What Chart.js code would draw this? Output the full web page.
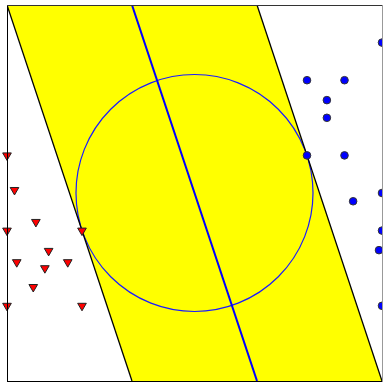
<!DOCTYPE html>
<html>
<head>
<meta charset="utf-8">
<script src="https://cdn.jsdelivr.net/npm/chart.js@4/dist/chart.umd.min.js"></script>
<style>
  body { margin: 0; background: #fff; }
  canvas { display: block; }
</style>
</head>
<body>
<canvas id="svmChart" width="383" height="382"></canvas>
<script>
// class A (triangles) and class B (dots)
const classAX = [0, 0.2, 0.77, 0, 2, 1.11, 0.26, 1.62, 1.01, 0.7, 0, 2];
const classAY = [6, 5.08, 4.23, 4, 4, 3.46, 3.16, 3.16, 3.0, 2.5, 2, 2];
const classBX = [10, 8, 9, 8.53, 8.53, 8, 9, 10, 9.23, 10, 9.92, 10];
const classBY = [9, 8, 8, 7.47, 7, 6, 6, 5, 4.78, 4, 3.48, 2];

// margin band and separating line
const bandX = [0, 6.667, 10, 3.333, 0];
const bandY = [10, 10, 0, 0, 10];
const lowerMarginX = [0, 3.333];
const lowerMarginY = [10, 0];
const upperMarginX = [6.667, 10];
const upperMarginY = [10, 0];
const boundaryX = [3.333, 6.667];
const boundaryY = [10, 0];

// circle touching both margins
const circleCenter = [5, 5];
const circleRadius = 3.16;

const toPoints = (xs, ys) => xs.map((x, i) => ({ x: x, y: ys[i] }));

const BAND_INDEX = 0;

// draws the circle right after the yellow band
const circlePlugin = {
    id: 'circle',
    afterDatasetDraw(chart, args) {
        if (args.index !== BAND_INDEX) return;
        const sx = chart.scales.x;
        const sy = chart.scales.y;
        const cx = sx.getPixelForValue(circleCenter[0]);
        const cy = sy.getPixelForValue(circleCenter[1]);
        const r = sx.getPixelForValue(circleCenter[0] + circleRadius) - cx;
        const ctx = chart.ctx;
        ctx.save();
        ctx.beginPath();
        ctx.arc(cx, cy, r, 0, Math.PI * 2);
        ctx.strokeStyle = '#1a1aff';
        ctx.lineWidth = 1.2;
        ctx.stroke();
        ctx.restore();
    }
};

// plot frame
const framePlugin = {
    id: 'frame',
    afterDatasetsDraw(chart) {
        const a = chart.chartArea;
        const ctx = chart.ctx;
        ctx.save();
        ctx.lineWidth = 1;
        const seg = (x1, y1, x2, y2, c) => {
            ctx.strokeStyle = c;
            ctx.beginPath();
            ctx.moveTo(x1, y1);
            ctx.lineTo(x2, y2);
            ctx.stroke();
        };
        seg(a.left + 0.5, a.top, a.left + 0.5, a.bottom + 1, '#000');
        seg(a.left, a.bottom + 0.5, a.right + 1, a.bottom + 0.5, '#000');
        seg(a.left, a.top + 0.5, a.right + 1, a.top + 0.5, '#333');
        seg(a.right + 0.5, a.top, a.right + 0.5, a.bottom + 1, '#999');
        ctx.restore();
    }
};

new Chart(document.getElementById('svmChart'), {
    type: 'scatter',
    data: {
        datasets: [
            {
                data: toPoints(bandX, bandY),
                showLine: true,
                fill: 'shape',
                backgroundColor: '#ffff00',
                borderWidth: 0,
                pointRadius: 0,
                order: 10
            },
            {
                data: toPoints(lowerMarginX, lowerMarginY),
                showLine: true,
                borderColor: '#000',
                borderWidth: 1.3,
                pointRadius: 0,
                order: 5
            },
            {
                data: toPoints(upperMarginX, upperMarginY),
                showLine: true,
                borderColor: '#000',
                borderWidth: 1.3,
                pointRadius: 0,
                order: 5
            },
            {
                data: toPoints(boundaryX, boundaryY),
                showLine: true,
                borderColor: '#0000ff',
                borderWidth: 2,
                pointRadius: 0,
                order: 4
            },
            {
                data: toPoints(classAX, classAY),
                pointStyle: 'triangle',
                rotation: 180,
                pointRadius: 5,
                backgroundColor: '#ff0000',
                borderColor: '#222',
                borderWidth: 1,
                clip: 10,
                order: 1
            },
            {
                data: toPoints(classBX, classBY),
                pointStyle: 'circle',
                pointRadius: 3.8,
                backgroundColor: '#0000ff',
                borderColor: '#333',
                borderWidth: 1,
                clip: 10,
                order: 1
            }
        ]
    },
    options: {
        responsive: false,
        animation: false,
        layout: {
            autoPadding: false,
            padding: { left: 7, top: 5, right: 1, bottom: 1 }
        },
        scales: {
            x: { type: 'linear', min: 0, max: 10, display: false },
            y: { type: 'linear', min: 0, max: 10, display: false }
        },
        plugins: {
            legend: { display: false },
            tooltip: { enabled: false }
        }
    },
    plugins: [circlePlugin, framePlugin]
});
</script>
</body>
</html>
